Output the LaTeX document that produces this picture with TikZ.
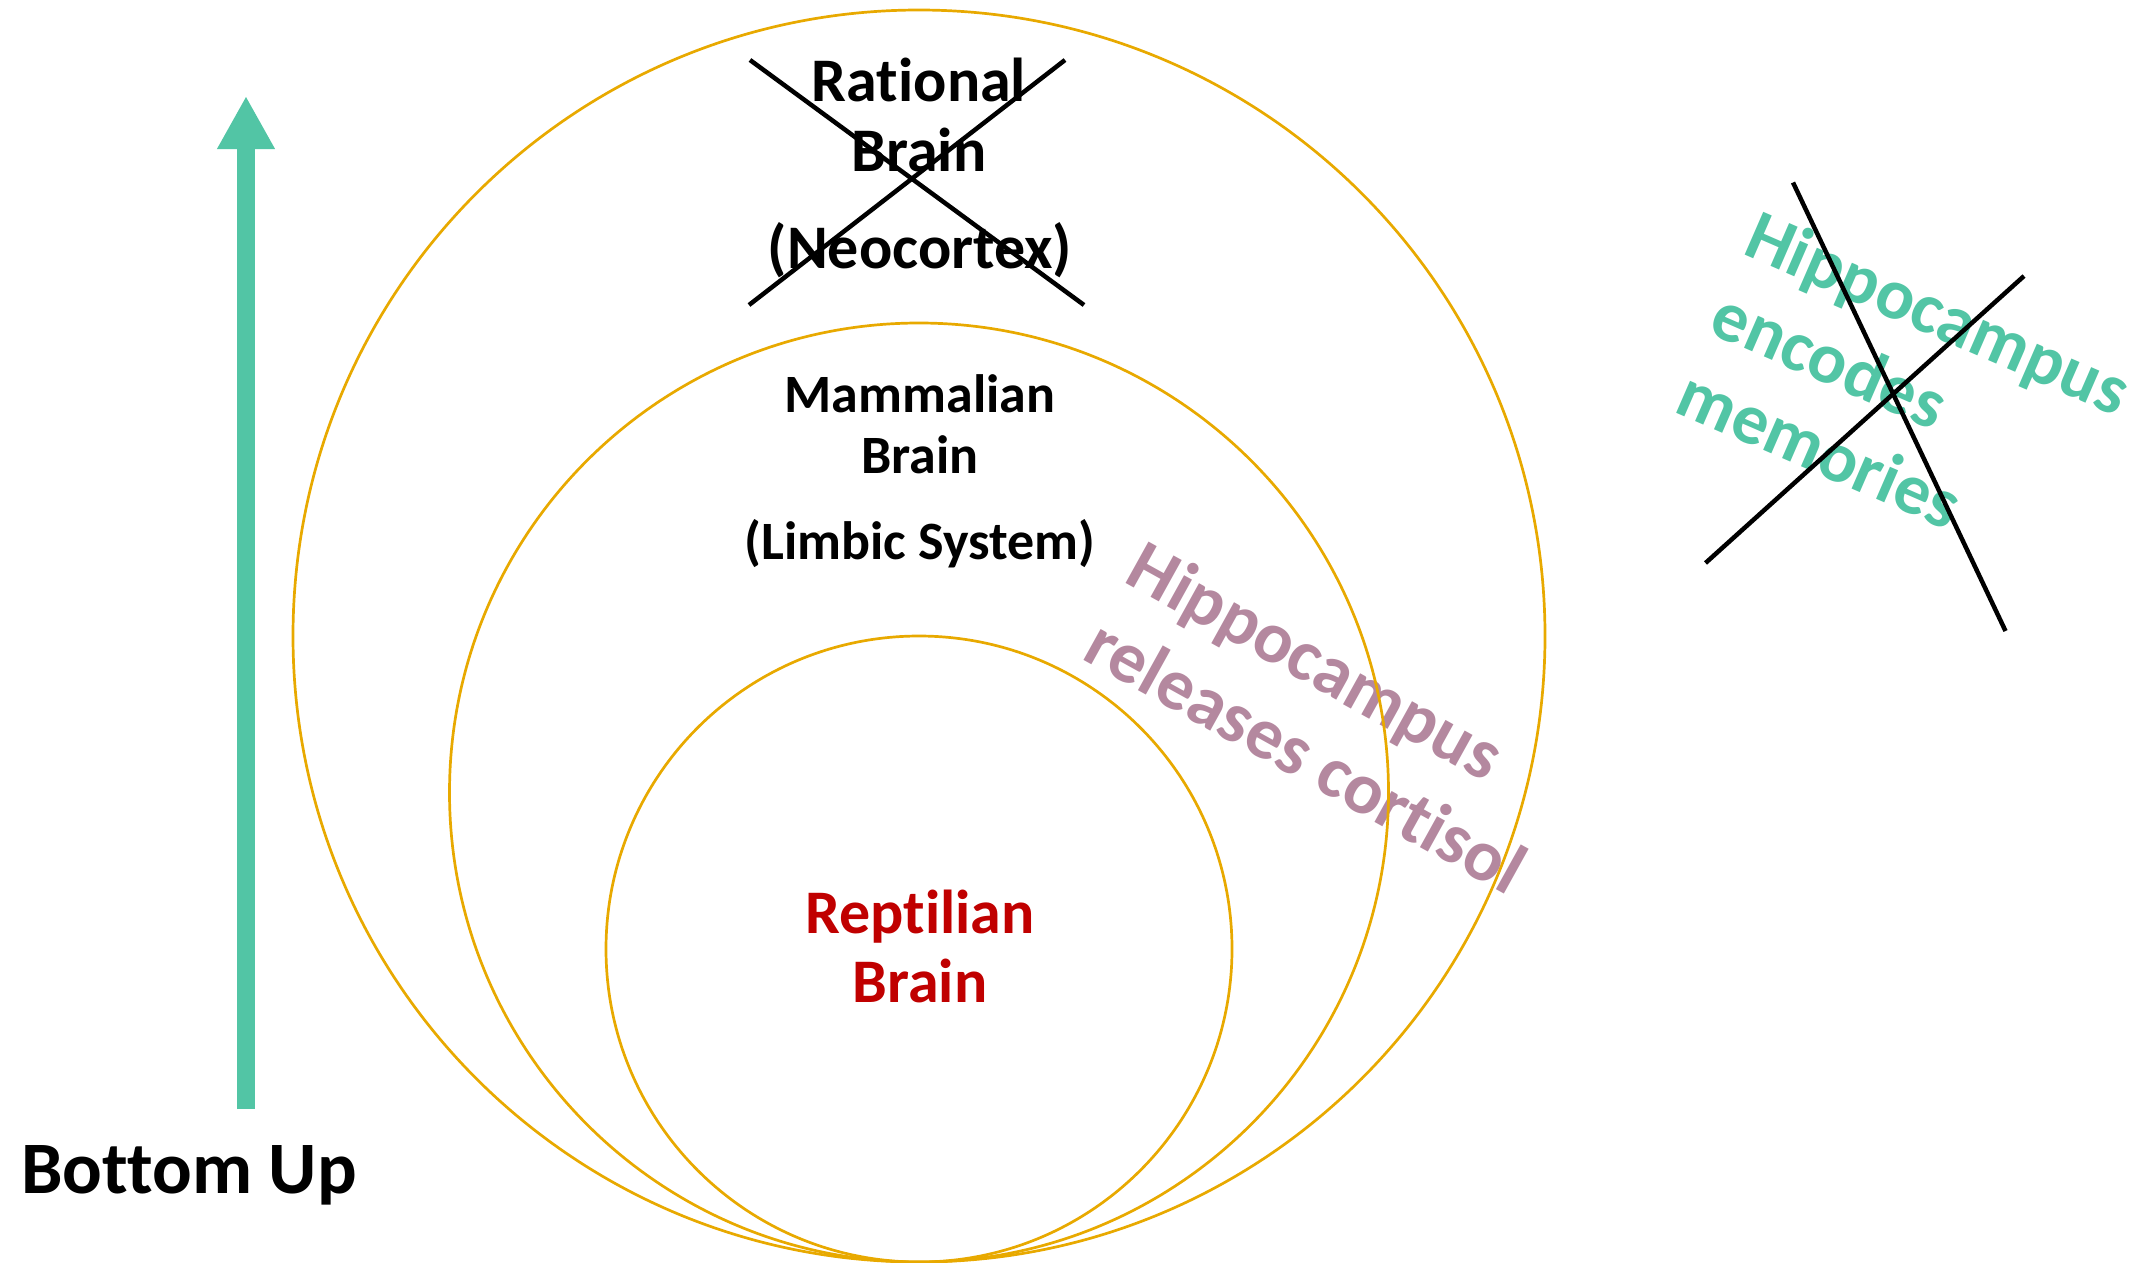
\documentclass[tikz,border=0pt]{standalone}
\usepackage{fontspec}
\setmainfont{Carlito}[Ligatures=NoCommon]
\usetikzlibrary{arrows.meta}
\definecolor{ringgold}{HTML}{E8A900}
\definecolor{mint}{HTML}{52C5A5}
\definecolor{mauve}{HTML}{B4889F}
\definecolor{darkred}{HTML}{C00000}
\begin{document}
\begin{tikzpicture}[x=1pt,y=-1pt,
  ring/.style={draw=ringgold, line width=2.7pt},
  cross/.style={draw=black, line width=4.5pt},
  big/.style={inner sep=0pt, anchor=base, font={\bfseries\fontsize{62}{74}\selectfont}},
  mid/.style={inner sep=0pt, anchor=base, font={\bfseries\fontsize{54}{65}\selectfont}},
  slant/.style={inner sep=0pt, anchor=base west, transform shape}]
\path[use as bounding box] (0,0) rectangle (2151,1262);

% arrow
\coordinate (upbot) at (246,1109);
\coordinate (uptop) at (246,96);
\draw[mint, line width=18pt, -{Triangle[length=53pt,width=54pt]}] (upbot) -- (uptop);
\node[inner sep=0pt, anchor=base west, font={\bfseries\fontsize{74}{88}\selectfont}] (bu) at (21,1193) {Bottom Up};

% rational brain
\node[big] (r1) at (919,101.7) {Rational};
\node[big] (r2) at (919,171.7) {Brain};
\node[big] (r3) at (920,268) {(Neocortex)};

% mammalian brain
\node[mid] (m1) at (920,412.5) {Mammalian};
\node[mid] (m2) at (920,473) {Brain};
\node[mid] (m3) at (920,559) {(Limbic System)};

% reptilian brain
\node[big, text=darkred] (p1) at (920,933) {Reptilian};
\node[big, text=darkred] (p2) at (920,1002) {Brain};

% rotated mauve text
\begin{scope}[shift={(1122.7,581.7)}, rotate=-29]
\node[slant, text=mauve, font={\bfseries\fontsize{73}{88}\selectfont}] (h1) at (0,0) {Hippocampus};
\node[slant, text=mauve, font={\bfseries\fontsize{73}{88}\selectfont}] (h2) at (0,88) {releases cortisol};
\end{scope}

% rotated green text
\begin{scope}[shift={(1741,253.3)}, rotate=-23.5]
\node[slant, text=mint, font={\bfseries\fontsize{72}{86}\selectfont}] (g1) at (0,0) {Hippocampus};
\node[slant, text=mint, font={\bfseries\fontsize{72}{86}\selectfont}] (g2) at (0,86) {encodes};
\node[slant, text=mint, font={\bfseries\fontsize{72}{86}\selectfont}] (g3) at (0,172) {memories};
\end{scope}

% circles
\draw[ring] (919,636) circle[radius=626pt];
\draw[ring] (919,792.5) circle[radius=469.5pt];
\draw[ring] (919,949) circle[radius=313pt];

% crosses
\coordinate (xa1) at (750,60);
\coordinate (xa2) at (1084,305);
\coordinate (xb1) at (1065,60);
\coordinate (xb2) at (749,305);
\draw[cross] (xa1) -- (xa2);
\draw[cross] (xb1) -- (xb2);

\coordinate (ya1) at (1793,182.5);
\coordinate (ya2) at (2005.5,631);
\coordinate (yb1) at (2024,276);
\coordinate (yb2) at (1705.5,563);
\draw[cross] (ya1) -- (ya2);
\draw[cross] (yb1) -- (yb2);
\end{tikzpicture}
\end{document}
